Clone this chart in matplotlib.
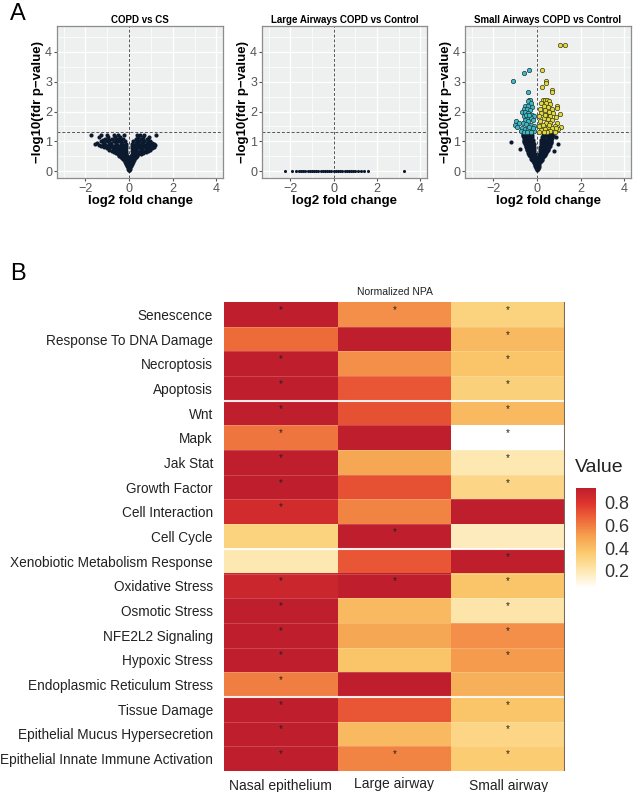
import matplotlib
matplotlib.use("Agg")
import matplotlib.pyplot as plt
import numpy as np
from matplotlib.colors import LinearSegmentedColormap

plt.rcParams['font.family'] = ['Liberation Sans', 'DejaVu Sans']

# ---------------- volcano data ----------------
# panel 1: COPD vs CS, rows of (y, [x...])
copd_rows = [
    (0.03, [0.0]),
    (0.05, [-0.015, 0.015]),
    (0.08, [-0.03, 0.03]),
    (0.13, [-0.06, 0.0, 0.06]),
    (0.16, [-0.08, -0.03, 0.03, 0.08]),
    (0.20, [-0.1, -0.04, 0.04, 0.1]),
    (0.24, [-0.13, -0.06, 0.02, 0.06, 0.12]),
    (0.28, [-0.16, -0.08, 0.0, 0.08, 0.15]),
    (0.32, [-0.2, -0.11, -0.02, 0.03, 0.11, 0.19]),
    (0.36, [-0.24, -0.14, -0.05, 0.05, 0.14, 0.22]),
    (0.40, [-0.28, -0.18, -0.08, 0.0, 0.1, 0.2]),
    (0.44, [-0.33, -0.22, -0.12, -0.03, 0.06, 0.16, 0.27]),
    (0.48, [-0.38, -0.27, -0.16, -0.06, 0.04, 0.15, 0.28, 0.32]),
    (0.52, [-0.45, -0.32, -0.2, -0.1, 0.1, 0.22, 0.36]),
    (0.56, [-0.52, -0.38, -0.25, -0.13, 0.13, 0.27, 0.42, 0.55]),
    (0.60, [-0.6, -0.45, -0.3, -0.16, 0.16, 0.32, 0.5, 0.65]),
    (0.64, [-0.7, -0.52, -0.36, -0.2, 0.2, 0.38, 0.58, 0.76]),
    (0.68, [-0.8, -0.6, -0.42, -0.25, -0.12, 0.12, 0.28, 0.48, 0.7, 0.88]),
    (0.72, [-0.9, -0.68, -0.48, -0.3, -0.18, 0.2, 0.33, 0.54, 0.78, 0.98]),
    (0.76, [-1.0, -0.75, -0.55, -0.35, -0.15, 0.15, 0.38, 0.6, 0.85, 1.05]),
    (0.80, [-1.15, -0.88, -0.65, -0.42, -0.22, 0.22, 0.46, 0.72, 0.96, 1.12]),
    (0.84, [-1.3, -1.0, -0.75, -0.5, -0.28, -0.12, 0.12, 0.35, 0.6, 0.85, 1.1]),
    (0.88, [-1.4, -1.1, -0.82, -0.55, -0.3, 0.28, 0.52, 0.78, 1.02, 1.18]),
    (0.92, [-1.55, -1.2, -0.9, -0.6, -0.35, -0.15, 0.15, 0.4, 0.65, 0.9, 1.15]),
    (0.96, [-1.45, -1.15, -0.85, -0.58, -0.32, 0.32, 0.58, 0.82, 1.05]),
    (1.00, [-1.3, -1.0, -0.7, -0.45, -0.2, 0.2, 0.45, 0.7, 0.95]),
    (1.04, [-1.2, -0.9, -0.6, -0.38, 0.38, 0.62, 0.88]),
    (1.08, [-1.1, -0.8, -0.5, -0.3, 0.3, 0.55, 0.8]),
    (1.14, [-1.4, -0.95, -0.65, -0.4, 0.4, 0.65, 0.9]),
    (1.20, [-1.75, -1.3, -1.0, -0.7, -0.5, -0.25, 0.35, 0.5, 0.7, 1.25]),
]

# panel 2: large airways, every gene at y = 0
large_x = [-2.25, -1.9, -1.75, -1.6, -1.5, -1.4, -1.3, -1.2, -1.1, -1.0, -0.9,
           -0.8, -0.7, -0.6, -0.5, -0.4, -0.3, -0.2, -0.1, 0.0, 0.1, 0.2, 0.3,
           0.4, 0.5, 0.6, 0.7, 0.8, 0.9, 1.0, 1.1, 1.25, 1.4, 1.6, 3.25]

# panel 3: small airways, non-significant cloud
small_rows = [
    (0.03, [0.0]),
    (0.06, [-0.02, 0.02]),
    (0.10, [-0.04, 0.03]),
    (0.14, [-0.06, -0.02, 0.03, 0.07]),
    (0.18, [-0.08, 0.0, 0.06]),
    (0.22, [-0.1, -0.04, 0.02, 0.08]),
    (0.26, [-0.13, -0.05, 0.05, 0.11]),
    (0.30, [-0.16, -0.08, 0.04, 0.14]),
    (0.34, [-0.2, -0.1, 0.0, 0.1, 0.17]),
    (0.38, [-0.23, -0.13, -0.03, 0.03, 0.13, 0.21]),
    (0.42, [-0.26, -0.16, -0.06, 0.06, 0.16, 0.24]),
    (0.46, [-0.29, -0.18, -0.04, 0.04, 0.18, 0.28]),
    (0.50, [-0.32, -0.2, -0.08, 0.08, 0.2, 0.3]),
    (0.54, [-0.35, -0.23, -0.12, 0.14, 0.24, 0.34]),
    (0.58, [-0.38, -0.25, -0.1, 0.1, 0.25, 0.38]),
    (0.62, [-0.4, -0.3, -0.18, 0.18, 0.28, 0.42]),
    (0.66, [-0.42, -0.28, -0.12, 0.12, 0.3, 0.45, 0.77]),
    (0.70, [-0.44, -0.36, -0.2, 0.2, 0.38, 0.48]),
    (0.74, [-0.79, -0.46, -0.3, -0.12, 0.12, 0.32, 0.5]),
    (0.78, [-0.48, -0.4, -0.22, 0.22, 0.42, 0.52]),
    (0.82, [-0.5, -0.34, -0.14, 0.14, 0.36, 0.55]),
    (0.86, [-0.52, -0.44, -0.25, 0.25, 0.46, 0.58]),
    (0.90, [-0.55, -0.38, -0.16, 0.16, 0.4, 0.6, 0.96]),
    (0.94, [-0.56, -0.48, -0.28, 0.28, 0.5, 0.62]),
    (0.98, [-1.2, -0.58, -0.4, -0.18, 0.18, 0.42, 0.62]),
    (1.02, [-0.6, -0.5, -0.3, 0.3, 0.54, 0.66]),
    (1.06, [-0.6, -0.42, -0.2, 0.2, 0.45, 0.66]),
    (1.10, [-0.62, -0.52, -0.32, 0.32, 0.56, 0.68]),
    (1.14, [-0.62, -0.44, -0.22, 0.22, 0.48, 0.7, 0.87]),
    (1.18, [-0.64, -0.54, -0.35, 0.35, 0.6, 0.7]),
    (1.22, [-0.64, -0.45, -0.25, 0.25, 0.5, 0.72]),
    (1.26, [-0.66, -0.55, -0.36, 0.36, 0.62, 0.74]),
]

# significant down (cyan) and up (yellow) genes
down_pts = [(-1.08, 3.03), (-0.61, 3.30), (-0.39, 3.39), (-0.41, 2.66),
            (-0.38, 2.4), (-0.32, 2.4), (-0.42, 2.35), (-0.28, 2.3), (-0.55, 2.2),
            (-0.4, 2.2), (-0.25, 2.15), (-0.62, 2.1), (-0.48, 2.1), (-0.32, 2.05),
            (-0.7, 2.0), (-0.55, 1.98), (-0.4, 1.95), (-0.25, 1.9), (-0.15, 1.85),
            (-0.6, 1.85), (-0.45, 1.82), (-0.3, 1.78), (-0.2, 1.72), (-0.55, 1.72),
            (-0.4, 1.68), (-0.95, 1.68), (-0.85, 1.62), (-0.65, 1.6), (-0.5, 1.58),
            (-0.3, 1.55), (-0.15, 1.5), (-1.0, 1.55), (-0.9, 1.48), (-0.7, 1.45),
            (-0.55, 1.42), (-0.4, 1.4), (-0.25, 1.38), (-0.12, 1.36), (-0.75, 1.35),
            (-0.6, 1.33), (-0.45, 1.32), (-0.3, 1.33), (-0.2, 1.45), (-0.35, 1.48),
            (-0.5, 1.9), (-0.35, 1.9)]
up_pts = [(1.07, 4.24), (1.26, 4.24), (0.21, 3.40), (0.43, 3.03), (0.39, 2.96),
          (0.21, 2.83), (0.67, 2.72), (0.67, 2.65), (0.93, 2.18), (0.93, 2.13),
          (1.05, 1.92), (1.11, 1.49),
          (0.25, 2.4), (0.35, 2.4), (0.45, 2.38), (0.55, 2.35), (0.2, 2.3),
          (0.4, 2.28), (0.6, 2.25), (0.3, 2.2), (0.5, 2.15), (0.15, 2.1), (0.7, 2.1),
          (0.35, 2.05), (0.55, 2.0), (0.2, 1.95), (0.75, 1.95), (0.4, 1.9),
          (0.6, 1.85), (0.1, 1.85), (0.85, 1.8), (0.3, 1.78), (0.5, 1.75),
          (0.7, 1.7), (0.15, 1.68), (0.4, 1.62), (0.6, 1.6), (0.9, 1.62),
          (0.25, 1.55), (0.8, 1.52), (0.1, 1.5), (0.5, 1.48), (0.7, 1.45),
          (0.35, 1.42), (0.95, 1.4), (0.2, 1.38), (0.6, 1.35), (0.45, 1.33),
          (0.1, 1.33), (0.8, 1.33), (0.3, 1.32), (0.55, 1.55), (0.35, 1.9),
          (0.85, 1.45)]

volcano_titles = ["COPD vs CS", "Large Airways COPD vs Control",
                  "Small Airways COPD vs Control"]

# ---------------- heatmap data ----------------
pathways = ["Senescence", "Response To DNA Damage", "Necroptosis", "Apoptosis",
            "Wnt", "Mapk", "Jak Stat", "Growth Factor", "Cell Interaction",
            "Cell Cycle", "Xenobiotic Metabolism Response", "Oxidative Stress",
            "Osmotic Stress", "NFE2L2 Signaling", "Hypoxic Stress",
            "Endoplasmic Reticulum Stress", "Tissue Damage",
            "Epithelial Mucus Hypersecretion", "Epithelial Innate Immune Activation"]
tissues = ["Nasal epithelium", "Large airway", "Small airway"]
nasal = [0.92, 0.65, 0.92, 0.92, 0.92, 0.62, 0.92, 0.92, 0.85, 0.32,
         0.20, 0.88, 0.92, 0.92, 0.92, 0.60, 0.92, 0.92, 0.92]
large = [0.55, 0.92, 0.55, 0.70, 0.72, 0.92, 0.48, 0.72, 0.58, 0.92,
         0.70, 0.92, 0.42, 0.48, 0.38, 0.92, 0.70, 0.42, 0.58]
small = [0.32, 0.42, 0.38, 0.33, 0.42, 0.05, 0.20, 0.30, 0.92, 0.18,
         0.92, 0.38, 0.22, 0.55, 0.52, 0.45, 0.38, 0.30, 0.35]
sig_nasal = [1, 0, 1, 1, 1, 1, 1, 1, 1, 0, 0, 1, 1, 1, 1, 1, 1, 1, 1]
sig_large = [1, 0, 0, 0, 0, 0, 0, 0, 0, 1, 0, 1, 0, 0, 0, 0, 0, 0, 1]
sig_small = [1, 1, 1, 1, 1, 1, 1, 1, 0, 0, 1, 1, 1, 1, 1, 0, 1, 1, 1]
group_breaks = [4, 10, 16]

W, H = 635, 792
fig = plt.figure(figsize=(W / 100, H / 100), dpi=100)


def box(l, t, r, b):
    return [l / W, 1 - b / H, (r - l) / W, (b - t) / H]


# ---------------- panel A ----------------
fig.text(10 / W, 1 - 14 / H, "A", fontsize=17, va="center", ha="left")
lefts = [(57, 223), (262, 427), (465, 631)]
for k, (l, r) in enumerate(lefts):
    ax = fig.add_axes(box(l, 26, r, 178))
    ax.set_facecolor("#EEF0F0")
    ax.set_xlim(-3.3, 4.3)
    ax.set_ylim(-0.23, 4.87)
    ax.set_xticks([-2, 0, 2, 4])
    ax.set_yticks([0, 1, 2, 3, 4])
    ax.set_xticks([-3, -1, 1, 3], minor=True)
    ax.set_yticks([0.5, 1.5, 2.5, 3.5, 4.5], minor=True)
    ax.grid(True, which="major", color="white", lw=0.9)
    ax.grid(True, which="minor", color="white", lw=0.5)
    ax.set_axisbelow(True)
    for s in ax.spines.values():
        s.set_color("#8C8C8C")
        s.set_linewidth(0.9)
    ax.tick_params(which="major", length=2.5, color="#555555", labelsize=9,
                   labelcolor="#555555", pad=1)
    ax.tick_params(which="minor", length=0)
    ax.axhline(1.3, color="#555555", lw=0.7, ls="--", dashes=(3, 2))
    ax.axvline(0, color="#555555", lw=0.7, ls="--", dashes=(3, 2))
    ax.set_title(volcano_titles[k], fontsize=7, fontweight="bold", pad=2)
    ax.set_xlabel("log2 fold change", fontsize=9.5, fontweight="bold", labelpad=0)
    ax.set_ylabel("\u2212log10(fdr p\u2212value)", fontsize=9.5, fontweight="bold",
                  labelpad=1)
    if k == 0:
        xs = [x for y, row in copd_rows for x in row]
        ys = [y for y, row in copd_rows for x in row]
        ax.scatter(xs, ys, s=9, color="#0B1A2E", lw=0, zorder=3)
    elif k == 1:
        ax.scatter(large_x, [0] * len(large_x), s=5, color="#0B1A2E", lw=0, zorder=3)
    else:
        xs = [x for y, row in small_rows for x in row]
        ys = [y for y, row in small_rows for x in row]
        ax.scatter(xs, ys, s=9, color="#0B1A2E", lw=0, zorder=3)
        ax.scatter([p[0] for p in down_pts], [p[1] for p in down_pts], s=10,
                   color="#3FBAC4", edgecolor="#1E3A40", lw=0.5, zorder=4)
        ax.scatter([p[0] for p in up_pts], [p[1] for p in up_pts], s=10,
                   color="#E3DA3C", edgecolor="#3C3A18", lw=0.5, zorder=4)

# ---------------- panel B ----------------
fig.text(10 / W, 1 - 274 / H, "B", fontsize=17, va="center", ha="left")
cmap = LinearSegmentedColormap.from_list(
    "npa", [(0.0, "#FFFFFF"), (0.17, "#FEE8B2"), (0.35, "#FBCB6E"),
            (0.52, "#F6A04F"), (0.68, "#EE6B3A"), (0.84, "#E0362E"),
            (1.0, "#BE1E2D")])
vals = np.array([nasal, large, small]).T
sig = np.array([sig_nasal, sig_large, sig_small]).T

hax = fig.add_axes(box(224, 302, 565, 771))
im = hax.imshow(vals, cmap=cmap, vmin=0.05, vmax=0.93, aspect="auto",
                interpolation="nearest", extent=(-0.5, 2.5, len(pathways) - 0.5, -0.5))
hax.set_xlim(-0.5, 2.5)
hax.set_ylim(len(pathways) - 0.5, -0.5)
for i in range(len(pathways)):
    hax.axhline(i + 0.5, color="white", lw=0.5, alpha=0.25)
    for j in range(3):
        if sig[i, j]:
            hax.text(j, i - 0.18, "*", ha="center", va="center", fontsize=7,
                     color="#222222")
for b in group_breaks:
    hax.axhline(b - 0.5, color="white", lw=1.5, alpha=0.9)
hax.axvline(2.5, color="#7A6A5A", lw=1.5)
for s in hax.spines.values():
    s.set_visible(False)
hax.set_yticks(range(len(pathways)))
hax.set_yticklabels(pathways, fontsize=9.8, color="#222222")
hax.set_xticks(range(3))
hax.set_xticklabels(tissues, fontsize=10, color="#222222")
for t in hax.get_xticklabels():
    if t.get_text() == "Large airway":
        t.set_y(0.006)
hax.tick_params(length=0, pad=8)
hax.tick_params(axis="x", pad=6)
hax.set_title("Normalized NPA", fontsize=7.5, pad=5, color="#222222")

cax = fig.add_axes(box(576, 488, 596, 588))
cb = fig.colorbar(im, cax=cax)
cb.outline.set_visible(False)
cb.set_ticks([0.2, 0.4, 0.6, 0.8])
cb.ax.tick_params(length=0, labelsize=13, labelcolor="#333333", pad=6)
fig.text(575 / W, 1 - 467 / H, "Value", fontsize=14, ha="left", va="center",
         color="#222222")

fig.savefig("out.png", dpi=100)
